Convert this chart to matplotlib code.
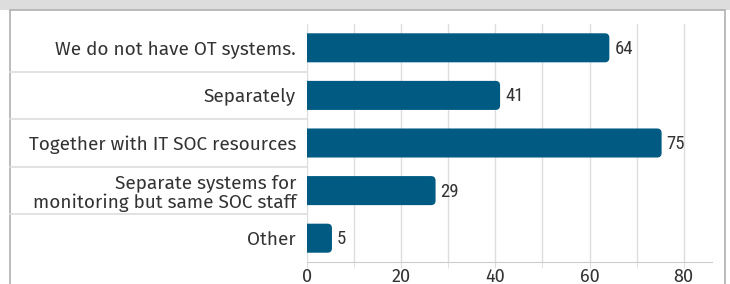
import matplotlib
matplotlib.use("Agg")
import matplotlib.pyplot as plt
from matplotlib.patches import Rectangle, PathPatch
from matplotlib.path import Path
from matplotlib.lines import Line2D
from matplotlib import font_manager
import matplotlib.transforms as mtransforms
from matplotlib.ticker import MultipleLocator

categories = ["We do not have OT systems.", "Separately", "Together with IT SOC resources",
              "Separate systems for\nmonitoring but same SOC staff", "Other"]
bar_lengths = [64.2, 41.0, 75.3, 27.3, 5.3]   # bar ends as drawn in the picture
value_labels = ["64", "41", "75", "29", "5"]
xticks = [0, 20, 40, 60, 80]


def pick(fams, default):
    for f in fams:
        try:
            font_manager.findfont(font_manager.FontProperties(family=f),
                                  fallback_to_default=False)
            return f
        except Exception:
            pass
    return default


narrow = pick(["Liberation Sans Narrow", "Roboto Condensed", "Open Sans Condensed"], "Roboto")
labfont = pick(["Fira Sans", "Open Sans"], "DejaVu Sans")

W, H = 730, 284
fig = plt.figure(figsize=(W / 100, H / 100), dpi=100)
fig.patch.set_facecolor("white")

fig.add_artist(Rectangle((0, 1 - 10 / H), 1, 10 / H, transform=fig.transFigure,
                         facecolor="#dddddd", edgecolor="none", zorder=0))
fig.add_artist(Rectangle((10 / W, -0.1), (725 - 10) / W, 1 - 10 / H + 0.1,
                         transform=fig.transFigure, facecolor="white",
                         edgecolor="#b0b0b0", linewidth=1.2, zorder=0))

left, right, top, bottom = 307, 712, 24, 262
ax = fig.add_axes([left / W, 1 - bottom / H, (right - left) / W, (bottom - top) / H])
ax.set_facecolor("none")
ax.set_xlim(0, 86)
ax.set_ylim(4.5, -0.5)

bar_color = "#005a82"
bh = 0.61
x_per_px = 86 / (right - left)
y_per_px = 5.0 / (bottom - top)
rx = 4.5 * x_per_px
ry = 4.5 * y_per_px
for i, (v, lab) in enumerate(zip(bar_lengths, value_labels)):
    y0, y1 = i - bh / 2, i + bh / 2
    verts = [(0, y0), (v - rx, y0), (v, y0), (v, y0 + ry), (v, y1 - ry),
             (v, y1), (v - rx, y1), (0, y1), (0, y0)]
    codes = [Path.MOVETO, Path.LINETO, Path.CURVE3, Path.CURVE3, Path.LINETO,
             Path.CURVE3, Path.CURVE3, Path.LINETO, Path.CLOSEPOLY]
    ax.add_patch(PathPatch(Path(verts, codes), facecolor=bar_color,
                           edgecolor="none", zorder=3))
    ax.text(v + 5 * x_per_px, i + 0.02, lab, va="center", ha="left",
            fontsize=13.5, color="#333333", family=[narrow, "DejaVu Sans"], zorder=4)

ax.set_yticks(range(len(categories)))
ax.set_yticklabels(categories, fontsize=13.7, color="#333333",
                   family=[labfont, "DejaVu Sans"], linespacing=1.05)
ax.tick_params(axis="y", length=0, pad=8)

ax.set_xticks(xticks)
ax.xaxis.set_minor_locator(MultipleLocator(10))
ax.tick_params(axis="x", which="both", length=4, color="#dddddd", pad=0,
               labelsize=13, labelcolor="#333333")
for lab in ax.get_xticklabels():
    lab.set_family([labfont, "DejaVu Sans"])

ax.grid(axis="x", which="both", color="#dddddd", linewidth=1, zorder=0)
ax.set_axisbelow(True)
for s in ["top", "right", "left"]:
    ax.spines[s].set_visible(False)
ax.spines["bottom"].set_color("#cccccc")

trans = mtransforms.blended_transform_factory(fig.transFigure, ax.transData)
for k in range(len(categories) - 1):
    fig.add_artist(Line2D([10 / W, left / W], [k + 0.5, k + 0.5], transform=trans,
                          color="#dddddd", linewidth=1.2, zorder=1))

fig.savefig("out.png", dpi=100, facecolor="white")
